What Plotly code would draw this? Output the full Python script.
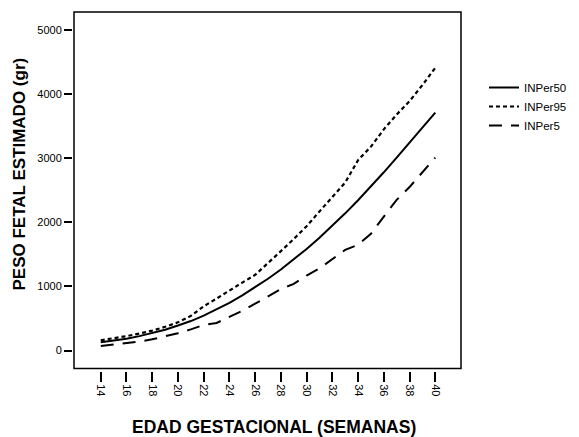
import plotly.graph_objects as go

weeks = list(range(14, 41))
per50 = [130, 155, 185, 225, 270, 325, 390, 460, 545, 640, 745, 860, 985, 1120, 1265,
         1420, 1585, 1760, 1945, 2140, 2345, 2560, 2780, 3010, 3240, 3475, 3710]
per95 = [160, 190, 225, 265, 310, 370, 440, 540, 690, 810, 940, 1060, 1180, 1360, 1550,
         1740, 1940, 2170, 2400, 2620, 2970, 3180, 3450, 3680, 3890, 4140, 4410]
per5 = [70, 90, 110, 140, 175, 220, 270, 330, 400, 430, 520, 620, 730, 840, 960,
        1040, 1170, 1280, 1420, 1570, 1650, 1820, 2090, 2350, 2550, 2780, 3010]
x_ticks = list(range(14, 41, 2))
y_ticks = [0, 1000, 2000, 3000, 4000, 5000]

FONT = "Liberation Sans, Arial, sans-serif"
W, H = 579, 437
ml, mr, mt, mb = 72, 0, 12, 66
pw = W - ml - mr
ph = H - mt - mb
box_l, box_r = 74, 461
dx0 = (box_l - ml) / pw
dx1 = (box_r - ml) / pw
dy = 2.5 / ph

def px_x(p):
    return (p - ml) / pw

fig = go.Figure()
fig.add_trace(go.Scatter(x=weeks, y=per50, mode="lines", name="INPer50",
                         line=dict(color="black", width=2, dash="solid")))
fig.add_trace(go.Scatter(x=weeks, y=per95, mode="lines", name="INPer95",
                         line=dict(color="black", width=2.2, dash="4px,3px")))
fig.add_trace(go.Scatter(x=weeks, y=per5, mode="lines", name="INPer5",
                         line=dict(color="black", width=2, dash="13px,9px")))

fig.update_layout(
    width=W, height=H,
    margin=dict(l=ml, r=mr, t=mt, b=mb),
    paper_bgcolor="white", plot_bgcolor="white",
    font=dict(family=FONT, size=11, color="black"),
    showlegend=True,
    legend=dict(x=px_x(484), y=1 - (73 - mt) / ph,
                xanchor="left", yanchor="top",
                font=dict(family=FONT, size=11.5, color="black"),
                tracegroupgap=0, itemwidth=30, bgcolor="rgba(0,0,0,0)"),
    xaxis=dict(domain=[dx0, dx1], range=[11.92, 42.0], anchor="free", position=0,
               tickmode="array", tickvals=x_ticks, ticktext=[str(v) for v in x_ticks],
               ticks="outside", ticklen=10, tickwidth=1.5, tickcolor="black",
               tickangle=90, showgrid=False, zeroline=False, showline=False,
               tickfont=dict(family=FONT, size=11)),
    yaxis=dict(domain=[dy, 1], range=[-280, 5280], anchor="free", position=0,
               tickmode="array", tickvals=y_ticks, ticktext=[str(v) for v in y_ticks],
               ticks="outside", ticklen=8, tickwidth=1.5, tickcolor="black",
               showgrid=False, zeroline=False, showline=False,
               tickfont=dict(family=FONT, size=11)),
)

fig.add_shape(type="rect", xref="paper", yref="paper", x0=dx0, x1=dx1, y0=dy, y1=1,
              line=dict(color="black", width=1.5), fillcolor="rgba(0,0,0,0)", layer="above")

fig.add_annotation(text="<b>EDAD GESTACIONAL (SEMANAS)</b>", xref="paper", yref="paper",
                   x=px_x(273.5), y=-(427 - (H - mb)) / ph, xanchor="center", yanchor="middle",
                   showarrow=False, font=dict(family=FONT, size=17.5, color="black"))
fig.add_annotation(text="<b>PESO FETAL ESTIMADO (gr)</b>", xref="paper", yref="paper",
                   x=px_x(18.5), y=1 - (174 - mt) / ph, xanchor="center", yanchor="middle",
                   textangle=-90, showarrow=False, font=dict(family=FONT, size=17, color="black"))

fig.write_html("out.html")
